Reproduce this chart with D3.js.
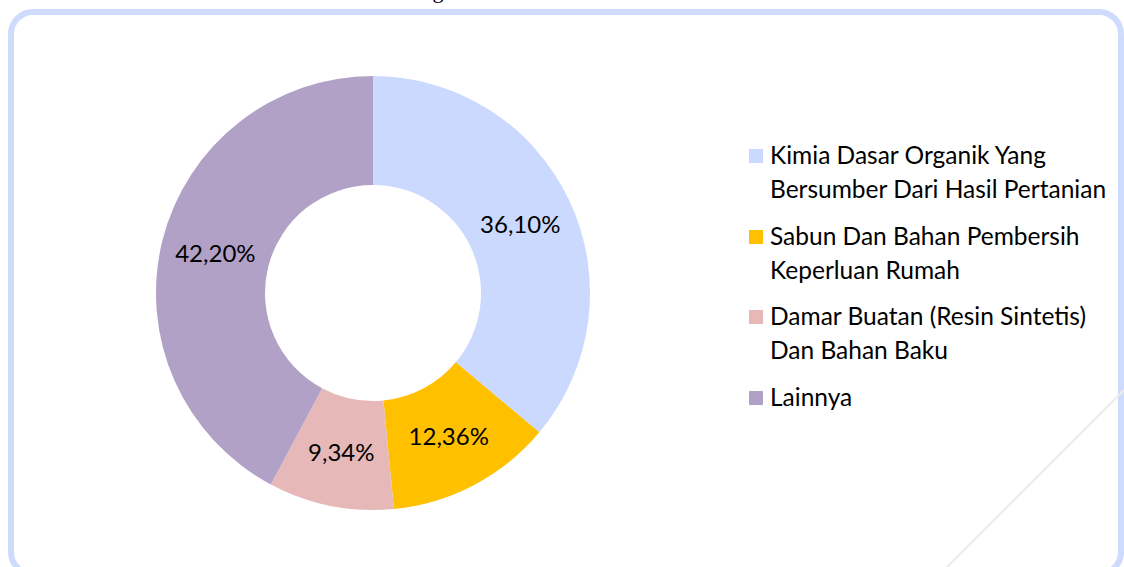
<!DOCTYPE html>
<html lang="id">
<head>
<meta charset="UTF-8">
<title>Donut chart</title>
<script src="https://cdn.jsdelivr.net/npm/d3@7"></script>
<style>
    html, body {
        margin: 0;
        padding: 0;
        background: #fff;
    }
    svg {
        display: block;
    }
    .pct {
        font-family: Lato, sans-serif;
        font-size: 24px;
        fill: #000;
    }
    .legend text {
        font-family: Lato, sans-serif;
        font-size: 24.5px;
        fill: #000;
    }
</style>
</head>
<body>
<svg id="chart" width="1124" height="567"></svg>
<script>
    // data
    var categories = [
        ["Kimia Dasar Organik Yang", "Bersumber Dari Hasil Pertanian"],
        ["Sabun Dan Bahan Pembersih", "Keperluan Rumah"],
        ["Damar Buatan (Resin Sintetis)", "Dan Bahan Baku"],
        ["Lainnya"]
    ];
    var values = [36.10, 12.36, 9.34, 42.20];
    var labels = ["36,10%", "12,36%", "9,34%", "42,20%"];
    var colors = ["#ccd9fe", "#ffc000", "#e6b9b8", "#b2a1c7"];

    var svg = d3.select("#chart");

    // frame of the chart area
    svg.append("rect")
        .attr("x", 11).attr("y", 12)
        .attr("width", 1110).attr("height", 562)
        .attr("rx", 22).attr("ry", 22)
        .attr("fill", "none")
        .attr("stroke", "#cfdbfd")
        .attr("stroke-width", 6);

    // bit of the caption above, cut off by the crop
    svg.append("text")
        .attr("x", 438).attr("y", -2)
        .attr("text-anchor", "middle")
        .style("font-family", "'Liberation Serif', serif")
        .style("font-size", "22px")
        .text("g");

    // faint diagonal line in the corner
    svg.append("line")
        .attr("x1", 1124).attr("y1", 390)
        .attr("x2", 946).attr("y2", 568)
        .attr("stroke", "#ebebeb")
        .attr("stroke-width", 2);

    var cx = 373, cy = 293,
        outer = 217, inner = 108;

    var pie = d3.pie().sort(null).value(d => d);
    var arc = d3.arc().innerRadius(inner).outerRadius(outer);

    var g = svg.append("g")
        .attr("transform", "translate(" + cx + "," + cy + ")");

    var slices = g.selectAll(".slice")
        .data(pie(values))
        .enter().append("g")
        .attr("class", "slice");

    slices.append("path")
        .attr("d", arc)
        .attr("fill", (d, i) => colors[i]);

    slices.append("text")
        .attr("class", "pct")
        .attr("transform", d => "translate(" + arc.centroid(d) + ")")
        .attr("text-anchor", "middle")
        .attr("dy", "0.36em")
        .text((d, i) => labels[i]);

    // legend
    var legendTop = [149, 230, 310, 391];
    var legend = svg.append("g")
        .attr("class", "legend")
        .attr("transform", "translate(749,0)");

    var items = legend.selectAll(".item")
        .data(categories)
        .enter().append("g")
        .attr("class", "item")
        .attr("transform", (d, i) => "translate(0," + legendTop[i] + ")");

    items.append("rect")
        .attr("width", 14).attr("height", 14)
        .attr("fill", (d, i) => colors[i]);

    items.append("text")
        .attr("x", 21)
        .selectAll("tspan")
        .data(d => d)
        .enter().append("tspan")
        .attr("x", 21)
        .attr("y", (d, j) => 15 + j * 34)
        .text(d => d);
</script>
</body>
</html>
